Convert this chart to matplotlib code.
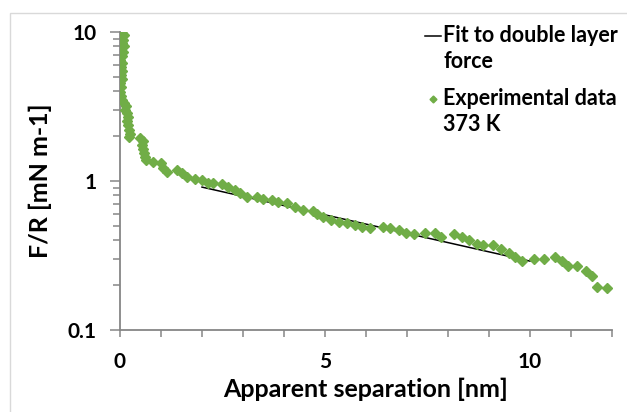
import matplotlib
matplotlib.use("Agg")
import matplotlib.pyplot as plt
from matplotlib.lines import Line2D
from matplotlib.patches import Rectangle
from matplotlib.ticker import FixedLocator, NullFormatter, LogLocator

plt.rcParams['font.family'] = ['Lato', 'DejaVu Sans']
plt.rcParams['font.weight'] = 'bold'

# experimental data, 373 K (apparent separation in nm, F/R in mN/m)
sep_nm = [0.05, 0.10, 0.02, 0.07, 0.05, 0.10, 0.02, 0.07, 0.05, 0.00,
          0.05, 0.02, 0.05, 0.02, 0.05, 0.00, 0.02, 0.00, 0.02, 0.05,
          0.10, 0.15, 0.12, 0.17, 0.20, 0.17, 0.20, 0.22, 0.24, 0.22,
          0.49, 0.56, 0.54, 0.56, 0.59, 0.61, 0.63, 0.80, 1.00, 1.05,
          1.15, 1.39, 1.51, 1.63, 1.83, 2.00, 2.15, 2.27, 2.49, 2.63,
          2.80, 2.93, 3.10, 3.34, 3.49, 3.71, 3.85, 4.07, 4.27, 4.46,
          4.71, 4.80, 4.95, 5.15, 5.34, 5.54, 5.73, 5.90, 6.10, 6.41,
          6.59, 6.80, 6.98, 7.17, 7.44, 7.68, 7.83, 8.15, 8.34, 8.51,
          8.71, 8.85, 9.10, 9.29, 9.49, 9.63, 9.80, 10.10, 10.34, 10.61,
          10.78, 10.93, 11.15, 11.37, 11.51, 11.63, 11.88]
force_r = [9.84, 9.55, 9.26, 8.83, 8.44, 8.06, 7.69, 7.34, 6.90, 6.49,
           6.20, 5.82, 5.47, 5.14, 4.83, 4.54, 4.27, 3.95, 3.72, 3.50,
           3.33, 3.18, 3.00, 2.86, 2.69, 2.53, 2.38, 2.20, 2.07, 1.97,
           1.94, 1.86, 1.75, 1.64, 1.54, 1.45, 1.38, 1.34, 1.32, 1.22,
           1.15, 1.18, 1.13, 1.07, 1.03, 1.02, 0.97, 0.97, 0.95, 0.91,
           0.87, 0.83, 0.78, 0.78, 0.76, 0.75, 0.72, 0.71, 0.67, 0.64,
           0.63, 0.60, 0.57, 0.55, 0.53, 0.52, 0.51, 0.49, 0.48, 0.49,
           0.48, 0.47, 0.45, 0.44, 0.45, 0.45, 0.42, 0.44, 0.42, 0.40,
           0.38, 0.37, 0.37, 0.35, 0.33, 0.31, 0.29, 0.30, 0.30, 0.31,
           0.29, 0.27, 0.27, 0.25, 0.23, 0.195, 0.19]

# double layer fit (straight on the log axis)
fit_x = [2.0, 10.0]
fit_y = [0.91, 0.29]

x_labels = [0, 5, 10]
y_labels = [0.1, 1, 10]
legend_labels = ['Fit to double layer\nforce', 'Experimental data\n373 K']

green = '#70ad47'
grey = '#868686'
W, H = 627, 412

fig = plt.figure(figsize=(6.27, 4.12), dpi=100)
# light chart-area border
fig.patches.append(Rectangle((10 / W, -0.05), 1.0, 1.05 - 13 / H,
                             transform=fig.transFigure, fill=False,
                             edgecolor='#d9d9d9', linewidth=1))
ax = fig.add_axes([120 / W, 1 - 330 / H, 492 / W, 298 / H])

ax.plot(fit_x, fit_y, color='black', linewidth=1.1, zorder=2)
ax.plot(sep_nm, force_r, linestyle='none', marker='D', markersize=5,
        color=green, markeredgecolor=green, zorder=3)

ax.set_yscale('log')
ax.set_xlim(0, 12)
ax.set_ylim(0.1, 10)

ax.xaxis.set_major_locator(FixedLocator(x_labels))
ax.xaxis.set_minor_locator(FixedLocator(range(0, 13)))
ax.set_xticklabels([str(v) for v in x_labels])
ax.yaxis.set_major_locator(FixedLocator(y_labels))
ax.set_yticklabels(['0.1', '1', '10'])
ax.yaxis.set_minor_locator(LogLocator(base=10, subs=range(2, 10)))
ax.yaxis.set_minor_formatter(NullFormatter())

for s in ['top', 'right']:
    ax.spines[s].set_visible(False)
for s in ['left', 'bottom']:
    ax.spines[s].set_color(grey)
    ax.spines[s].set_linewidth(1.3)

ax.tick_params(axis='both', which='both', direction='out', color=grey, width=1.1)
ax.tick_params(axis='x', which='both', length=5, labelsize=15, pad=11)
ax.tick_params(axis='y', which='major', length=7, labelsize=15, pad=10)
ax.tick_params(axis='y', which='minor', length=5)

ax.set_xlabel('Apparent separation [nm]', fontsize=18, fontweight='bold', labelpad=4)
ax.set_ylabel('F/R [mN m-1]', fontsize=18, fontweight='bold', labelpad=11)

# legend drawn by hand so the keys sit on the first line of each entry
fig.add_artist(Line2D([425 / W, 441 / W], [1 - 36 / H, 1 - 36 / H],
                      transform=fig.transFigure, color='black', linewidth=1.1))
fig.add_artist(Line2D([433 / W], [1 - 99 / H], transform=fig.transFigure,
                      linestyle='none', marker='D', markersize=3.5, color=green))
fig.text(443 / W, 1 - 25 / H, legend_labels[0], va='top', ha='left',
         fontsize=15.5, fontweight='bold', linespacing=1.3)
fig.text(443 / W, 1 - 88 / H, legend_labels[1], va='top', ha='left',
         fontsize=15.5, fontweight='bold', linespacing=1.3)

fig.savefig('out.png', dpi=100)
